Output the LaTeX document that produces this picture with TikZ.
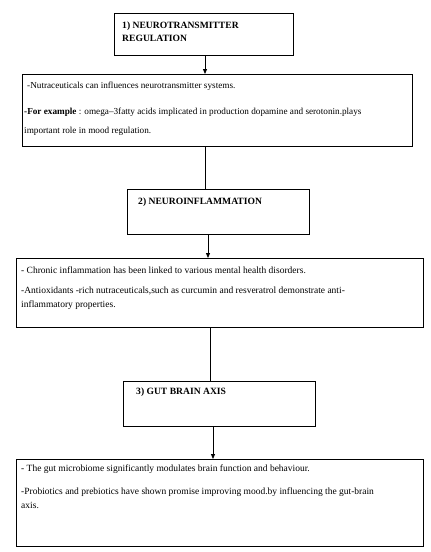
\documentclass[tikz,border=0pt]{standalone}
\usepackage{fontspec}
\setmainfont{Liberation Serif}
\usetikzlibrary{arrows.meta}
\begin{document}
\begin{tikzpicture}[x=1pt,y=-1pt,
 box/.style={draw, line width=0.9pt, anchor=north west, inner sep=0pt},
 head/.style={anchor=base west, inner sep=0pt, font=\fontsize{9.6}{12}\selectfont\bfseries},
 body/.style={anchor=base west, inner sep=0pt, font=\fontsize{9.5}{12}\selectfont},
 bodyA/.style={body, font=\fontsize{9.2}{12}\selectfont},
 conn/.style={line width=0.8pt},
 arr/.style={conn, -{Triangle[length=5pt,width=4pt]}}]
\useasboundingbox (0,0) rectangle (431,552);
% boxes
\node[box, minimum width=179pt, minimum height=42pt] (b1) at (114,13) {};
\node[box, minimum width=390pt, minimum height=72pt] (b2) at (22,74) {};
\node[box, minimum width=182pt, minimum height=45pt] (b3) at (127,189) {};
\node[box, minimum width=407pt, minimum height=69pt] (b4) at (16,258) {};
\node[box, minimum width=192pt, minimum height=45pt] (b5) at (123,381) {};
\node[box, minimum width=407pt, minimum height=87pt] (b6) at (16,459) {};
% x positions of connectors
\coordinate (x1) at (205,0);
\coordinate (x3) at (208,0);
\coordinate (x4) at (210,0);
\coordinate (x5) at (213,0);
% headings
\node[head] (h1a) at (122,28) {1) NEUROTRANSMITTER};
\node[head] (h1b) at (122,41) {REGULATION};
\node[head] (h3) at (138,204) {2) NEUROINFLAMMATION};
\node[head] (h5) at (136,394) {3) GUT BRAIN AXIS};
% body texts
\node[bodyA] (t2a) at (27,88) {-Nutraceuticals can influences neurotransmitter systems.};
\node[bodyA] (t2b) at (24,114) {\textbf{-For example} : omega--3fatty acids implicated in production dopamine and serotonin.plays};
\node[bodyA] (t2c) at (24,133) {important role in mood regulation.};
\node[body] (t4a) at (21,273) {- Chronic inflammation has been linked to various mental health disorders.};
\node[body] (t4b) at (21,293) {-Antioxidants -rich nutraceuticals,such as curcumin and resveratrol demonstrate anti-};
\node[body] (t4c) at (21,307) {inflammatory properties.};
\node[body] (t6a) at (21,471) {- The gut microbiome significantly modulates brain function and behaviour.};
\node[body] (t6b) at (21,494) {-Probiotics and prebiotics have shown promise improving mood.by influencing the gut-brain};
\node[body] (t6c) at (21,508) {axis.};
% connectors
\draw[arr] (b1.south -| x1) -- (b2.north -| x1);
\draw[conn] (b2.south -| x1) -- (b3.north -| x1);
\draw[arr] (b3.south -| x3) -- (b4.north -| x3);
\draw[conn] (b4.south -| x4) -- (b5.north -| x4);
\draw[arr] (b5.south -| x5) -- (b6.north -| x5);
\end{tikzpicture}
\end{document}
